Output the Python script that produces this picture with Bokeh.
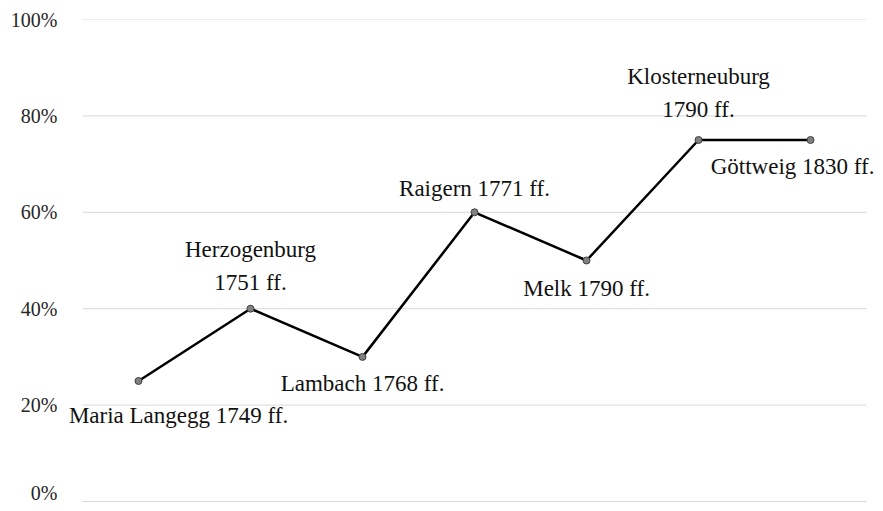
from bokeh.plotting import figure
from bokeh.models import ColumnDataSource, Range1d, NumeralTickFormatter, FixedTicker
from bokeh.core.properties import value
from bokeh.embed import file_html
from bokeh.resources import INLINE

sites = ["Maria Langegg", "Herzogenburg", "Lambach", "Raigern", "Melk", "Klosterneuburg", "Göttweig"]
shares = [0.25, 0.40, 0.30, 0.60, 0.50, 0.75, 0.75]
labels = ["Maria Langegg 1749 ff.", "Herzogenburg\n1751 ff.", "Lambach 1768 ff.", "Raigern 1771 ff.",
          "Melk 1790 ff.", "Klosterneuburg\n1790 ff.", "Göttweig 1830 ff."]
label_dx = [40, 0, 0, 0, 0, 0, -18]
label_dy = [35, -59, 27, -24, 28, -63, 27]
y_ticks = [0, 0.2, 0.4, 0.6, 0.8, 1.0]

FONT = "Liberation Serif"
LINE_GAP = 33

xs = list(range(len(sites)))
src = ColumnDataSource(dict(x=xs, y=shares))

# one row per text line
lx, ly, lt, ldx, ldy = [], [], [], [], []
for i, (lab, dx, dy) in enumerate(zip(labels, label_dx, label_dy)):
    for j, part in enumerate(lab.split("\n")):
        lx.append(xs[i]); ly.append(shares[i]); lt.append(part)
        ldx.append(dx); ldy.append(dy + j * LINE_GAP)
lsrc = ColumnDataSource(dict(x=lx, y=ly, text=lt, dx=ldx, dy=ldy))

p = figure(width=875, height=503, output_backend="svg", toolbar_location=None,
           x_range=Range1d(-0.643, len(sites) - 1 + 0.571),
           y_range=Range1d(-0.0042, 1.0),
           min_border_left=66, min_border_right=1, min_border_top=19, min_border_bottom=0)
p.outline_line_color = None
p.xaxis.visible = False
p.xgrid.grid_line_color = None
p.ygrid.grid_line_color = None

# horizontal gridlines spanning the category band only
p.segment(x0=[-0.5] * len(y_ticks), x1=[len(sites) - 0.5] * len(y_ticks), y0=y_ticks, y1=y_ticks,
          line_color="#d9d9d9", line_width=1)

ax = p.yaxis[0]
ax.ticker = FixedTicker(ticks=y_ticks)
ax.formatter = NumeralTickFormatter(format="0%")
ax.axis_line_color = None
ax.major_tick_line_color = None
ax.minor_tick_line_color = None
ax.major_tick_out = 0
ax.major_tick_in = 0
ax.major_label_standoff = 9
ax.major_label_text_font = FONT
ax.major_label_text_font_size = "20px"
ax.major_label_text_color = "#262626"

p.line("x", "y", source=src, line_color="#000000", line_width=2.5)
p.scatter("x", "y", source=src, size=7, fill_color="#808080", line_color="#404040", line_width=1)

p.text("x", "y", text="text", source=lsrc, x_offset="dx", y_offset="dy",
       text_align="center", text_baseline="middle", text_font=value(FONT),
       text_font_size="23px", text_color="#111111")

open("out.html", "w").write(file_html(p, INLINE))
